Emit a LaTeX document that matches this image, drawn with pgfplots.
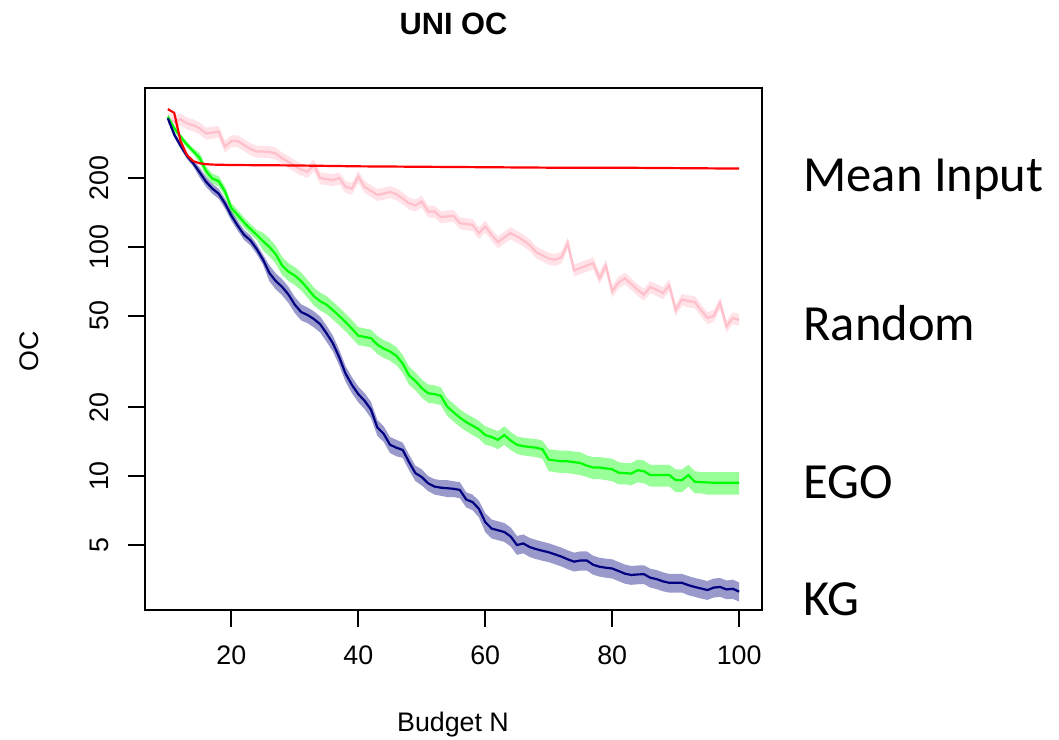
\documentclass[border=0pt]{standalone}
\usepackage{fontspec}
\setmainfont{Liberation Sans}
\newfontfamily\calibri{Carlito}
\usepackage{pgfplots}
\usepackage{pgfplotstable}
\pgfplotsset{compat=1.18}
\usepgfplotslibrary{fillbetween}
\definecolor{pinkc}{RGB}{255,192,203}
\definecolor{navyc}{RGB}{0,0,128}
\definecolor{greenc}{RGB}{0,255,0}
\definecolor{redc}{RGB}{255,0,0}

\pgfplotstableread{
x m
10 400
11 385
12 290
13 252
14 237
15 232
16 230
17 229
20 228
30 227
40 225
50 224
60 223
70 222
80 222
90 221
100 220
}\meanT

\pgfplotstableread{
x m lo hi
10 365 343.1 386.9
11 352 330.9 373.1
12 361 339.3 382.7
13 347 326.2 367.8
14 340 319.6 360.4
15 330 310.2 349.8
16 313 294.2 331.8
17 316 297.0 335.0
18 319 299.9 338.1
19 274 257.6 290.4
20 290 272.6 307.4
21 290 272.6 307.4
22 279 262.3 295.7
23 268 251.9 284.1
24 261 245.3 276.7
25 261 245.3 276.7
26 260 244.4 275.6
27 256 240.6 271.4
28 244 229.4 258.6
29 235 220.9 249.1
30 226 212.4 239.6
31 218 204.9 231.1
32 213 200.2 225.8
33 228 214.3 241.7
34 200 188.0 212.0
35 198 186.1 209.9
36 196 184.2 207.8
37 200 188.0 212.0
38 183 172.0 194.0
39 180 169.2 190.8
40 203 190.8 215.2
41 183 172.0 194.0
42 176 165.4 186.6
43 169 158.9 179.1
44 171 160.7 181.3
45 174 163.6 184.4
46 170 159.8 180.2
47 163 153.2 172.8
48 155 145.7 164.3
49 152 142.9 161.1
50 158 148.5 167.5
51 143 134.4 151.6
52 143 134.4 151.6
53 135 126.9 143.1
54 136 127.8 144.2
55 137 128.8 145.2
56 127 119.4 134.6
57 126 118.4 133.6
58 125 117.5 132.5
59 115 108.1 121.9
60 123 115.6 130.4
61 113 106.2 119.8
62 105 98.7 111.3
63 110 103.4 116.6
64 115 108.1 121.9
65 111 104.3 117.7
66 107 100.6 113.4
67 102 95.9 108.1
68 95 89.3 100.7
69 92 86.5 97.5
70 89 83.7 94.3
71 88 82.7 93.3
72 90 84.6 95.4
73 104 97.8 110.2
74 79 74.3 83.7
75 81 76.1 85.9
76 83 78.0 88.0
77 85 79.9 90.1
78 73 68.6 77.4
79 83 78.0 88.0
80 64 60.2 67.8
81 70 65.8 74.2
82 73 68.6 77.4
83 69 64.9 73.1
84 65 61.1 68.9
85 62 58.3 65.7
86 67 63.0 71.0
87 65 61.1 68.9
88 63 59.2 66.8
89 68 63.9 72.1
90 53 49.8 56.2
91 59 55.5 62.5
92 58 54.5 61.5
93 57.5 54.1 61.0
94 53 49.8 56.2
95 49 46.1 51.9
96 50 47.0 53.0
97 57 53.6 60.4
98 45 42.3 47.7
99 49 46.1 51.9
100 48 45.1 50.9
}\randT

\pgfplotstableread{
x m lo hi
10 370 358.9 381.1
11 330 320.1 339.9
12 303 293.9 312.1
13 280 271.6 288.4
14 262 254.1 269.9
15 245 232.8 257.3
16 215 204.3 225.8
17 199 189.1 209.0
18 194 184.3 203.7
19 175 166.3 183.8
20 148 140.6 155.4
21 138 131.1 144.9
22 128 121.6 134.4
23 120 114.0 126.0
24 113 107.4 118.7
25 106 96.5 115.5
26 100 91.0 109.0
27 93 84.6 101.4
28 83 75.5 90.5
29 78 71.0 85.0
30 75 68.3 81.8
31 71 64.6 77.4
32 66 60.1 71.9
33 61 55.5 66.5
34 58 52.8 63.2
35 56 51.0 61.0
36 53 48.2 57.8
37 50 45.5 54.5
38 47 42.8 51.2
39 44 40.0 48.0
40 41 37.3 44.7
41 40.5 36.9 44.1
42 40 36.4 43.6
43 37.5 34.1 40.9
44 36 32.8 39.2
45 35 31.9 38.2
46 33.5 30.5 36.5
47 31 28.2 33.8
48 27.5 25.0 30.0
49 26 23.7 28.3
50 24.2 22.0 26.4
51 23 20.9 25.1
52 22.8 20.7 24.9
53 22.4 20.4 24.4
54 20.1 18.3 21.9
55 19 17.3 20.7
56 18 16.4 19.6
57 17.2 15.7 18.7
58 16.6 15.1 18.1
59 16 14.6 17.4
60 15.1 13.7 16.5
61 14.8 13.5 16.1
62 14.4 13.1 15.7
63 15.1 13.7 16.5
64 14.3 13.0 15.6
65 13.7 12.5 14.9
66 13.5 12.3 14.7
67 13.4 12.2 14.6
68 13.3 12.1 14.5
69 13.1 11.9 14.3
70 11.8 10.5 13.1
71 11.7 10.4 13.0
72 11.6 10.3 12.9
73 11.6 10.3 12.9
74 11.5 10.2 12.8
75 11.4 10.1 12.7
76 11.1 9.9 12.3
77 10.9 9.7 12.1
78 10.9 9.7 12.1
79 10.8 9.6 12.0
80 10.7 9.5 11.9
81 10.35 9.2 11.5
82 10.3 9.2 11.4
83 10.25 9.1 11.4
84 10.6 9.4 11.8
85 10.5 9.3 11.7
86 10.1 9.0 11.2
87 10.1 9.0 11.2
88 10.1 9.0 11.2
89 10.1 9.0 11.2
90 9.6 8.5 10.7
91 9.6 8.5 10.7
92 10.1 9.0 11.2
93 9.45 8.4 10.5
94 9.4 8.4 10.4
95 9.38 8.3 10.4
96 9.35 8.3 10.4
97 9.35 8.3 10.4
98 9.35 8.3 10.4
99 9.35 8.3 10.4
100 9.35 8.3 10.4
}\egoT

\pgfplotstableread{
x m lo hi
10 365 354.1 376.0
11 310 300.7 319.3
12 277 268.7 285.3
13 250 242.5 257.5
14 232 225.0 239.0
15 212 201.4 222.6
16 193 183.4 202.7
17 180 171.0 189.0
18 171 162.5 179.6
19 155 147.3 162.8
20 137 130.2 143.9
21 124 117.8 130.2
22 113 107.4 118.7
23 107 101.7 112.4
24 98 93.1 102.9
25 88 83.6 92.4
26 77 70.8 83.2
27 71 65.3 76.7
28 67 61.6 72.4
29 62 57.0 67.0
30 56 51.5 60.5
31 52 47.8 56.2
32 50.5 46.5 54.5
33 48.5 44.6 52.4
34 46 42.3 49.7
35 42 38.6 45.4
36 38 35.0 41.0
37 33 30.4 35.6
38 28 25.8 30.2
39 25 23.0 27.0
40 22.8 21.0 24.6
41 21.3 19.6 23.0
42 19.5 17.9 21.1
43 16.3 15.0 17.6
44 15.3 14.1 16.5
45 13.7 12.6 14.8
46 13.3 12.2 14.4
47 13.0 12.0 14.0
48 11.5 10.6 12.4
49 10.3 9.5 11.1
50 9.9 9.1 10.7
51 9.3 8.6 10.0
52 9.0 8.3 9.7
53 8.9 8.2 9.6
54 8.85 8.1 9.6
55 8.8 8.1 9.5
56 8.7 8.0 9.4
57 7.9 7.3 8.5
58 7.7 7.1 8.3
59 7.2 6.6 7.8
60 6.3 5.7 6.9
61 5.9 5.34 6.46
62 5.8 5.25 6.35
63 5.7 5.16 6.24
64 5.45 4.93 5.97
65 5.0 4.53 5.48
66 5.08 4.6 5.56
67 4.9 4.43 5.37
68 4.8 4.34 5.26
69 4.72 4.27 5.17
70 4.65 4.21 5.09
71 4.55 4.12 4.98
72 4.45 4.03 4.87
73 4.33 3.92 4.74
74 4.23 3.83 4.63
75 4.28 3.87 4.69
76 4.28 3.87 4.69
77 4.1 3.71 4.49
78 4.02 3.64 4.40
79 3.98 3.60 4.36
80 3.95 3.57 4.33
81 3.85 3.48 4.22
82 3.75 3.39 4.11
83 3.7 3.35 4.05
84 3.72 3.37 4.07
85 3.73 3.38 4.08
86 3.6 3.26 3.94
87 3.55 3.21 3.89
88 3.47 3.14 3.80
89 3.42 3.10 3.74
90 3.42 3.10 3.74
91 3.42 3.10 3.74
92 3.34 3.02 3.66
93 3.28 2.97 3.59
94 3.23 2.92 3.54
95 3.18 2.88 3.48
96 3.26 2.95 3.57
97 3.28 2.97 3.59
98 3.2 2.90 3.50
99 3.22 2.91 3.53
100 3.13 2.83 3.43
}\kgT

\begin{document}
\begin{tikzpicture}
\begin{axis}[
  at={(72.5pt,64.5pt)}, anchor=south west,
  scale only axis, width=308.5pt, height=261pt,
  xmin=6.4, xmax=103.6,
  ymode=log, ymin=2.602, ymax=494.5,
  xtick={20,40,60,80,100},
  ytick={5,10,20,50,100,200},
  yticklabels={5,10,20,50,100,200},
  xminorticks=false, yminorticks=false,
  xtick pos=bottom, ytick pos=left,
  tick align=outside,
  major tick length=8.5pt,
  every tick/.style={black, line width=0.9pt},
  axis line style={line width=0.9pt},
  ticklabel style={font=\fontsize{13.4}{16}\selectfont},
  /pgf/number format/assume math mode=true,
  yticklabel style={rotate=90, anchor=south},
  xticklabel shift=6pt,
  yticklabel shift=6pt,
]
% Random
\addplot[draw=none, name path=rH, forget plot] table[x=x,y=hi]{\randT};
\addplot[draw=none, name path=rL, forget plot] table[x=x,y=lo]{\randT};
\addplot[fill=pinkc, fill opacity=0.45, draw=none] fill between[of=rH and rL];
\addplot[pinkc, line width=1.1pt] table[x=x,y=m]{\randT};
% EGO
\addplot[draw=none, name path=eH, forget plot] table[x=x,y=hi]{\egoT};
\addplot[draw=none, name path=eL, forget plot] table[x=x,y=lo]{\egoT};
\addplot[fill=greenc, fill opacity=0.4, draw=none] fill between[of=eH and eL];
\addplot[greenc, line width=1.1pt] table[x=x,y=m]{\egoT};
% KG
\addplot[draw=none, name path=kH, forget plot] table[x=x,y=hi]{\kgT};
\addplot[draw=none, name path=kL, forget plot] table[x=x,y=lo]{\kgT};
\addplot[fill=navyc, fill opacity=0.4, draw=none] fill between[of=kH and kL];
\addplot[navyc, line width=1.1pt] table[x=x,y=m]{\kgT};
% Mean Input
\addplot[redc, line width=1.1pt] table[x=x,y=m]{\meanT};
\end{axis}
\node[anchor=base, inner sep=0, font=\fontsize{15.4}{18}\selectfont\bfseries] at (226.75pt,352pt) {UNI OC};
\node[anchor=base, inner sep=0, font=\fontsize{13.4}{16}\selectfont] at (226.5pt,4pt) {Budget N};
\node[rotate=90, inner sep=0, font=\fontsize{13.4}{16}\selectfont] at (14.5pt,194pt) {OC};
\node[anchor=base west, inner sep=0, font=\calibri\fontsize{25.3}{30}\selectfont] at (401.5pt,273.7pt) {Mean Input};
\node[anchor=base west, inner sep=0, font=\calibri\fontsize{25.3}{30}\selectfont] at (401.5pt,199pt) {Random};
\node[anchor=base west, inner sep=0, font=\calibri\fontsize{25.3}{30}\selectfont] at (401.5pt,120.3pt) {EGO};
\node[anchor=base west, inner sep=0, font=\calibri\fontsize{25.3}{30}\selectfont] at (401.5pt,62pt) {KG};
\pgfresetboundingbox
\path (0,0) rectangle (529.5pt,369.5pt);
\end{tikzpicture}
\end{document}
